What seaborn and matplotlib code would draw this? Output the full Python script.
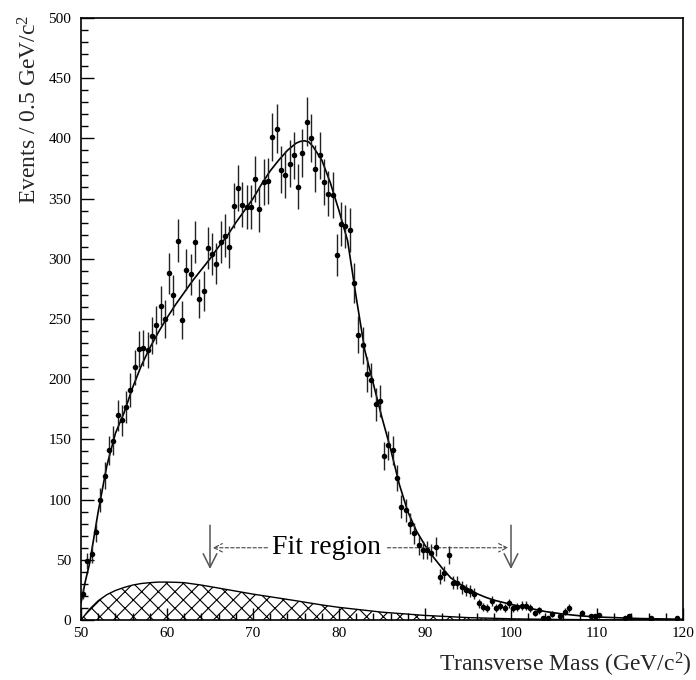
import numpy as np
import pandas as pd
import matplotlib
matplotlib.use("Agg")
import matplotlib.pyplot as plt
import seaborn as sns

# ---------------- data ----------------
bin_width = 0.5
bin_centers = np.arange(50.25, 120.0, bin_width)

counts = [
    22, 49, 55, 73, 100, 120, 141, 149, 170, 166,
    177, 191, 210, 225, 226, 224, 236, 245, 261, 250,
    288, 270, 315, 249, 291, 287, 314, 267, 273, 309,
    304, 296, 314, 319, 310, 344, 359, 345, 343, 343,
    366, 341, 364, 365, 401, 408, 374, 370, 379, 386,
    360, 388, 414, 400, 375, 386, 364, 354, 353, 303,
    329, 327, 324, 280, 237, 228, 204, 199, 179, 182,
    136, 145, 141, 118, 94, 91, 80, 72, 62, 58,
    58, 56, 61, 36, 39, 54, 31, 31, 27, 25,
    24, 22, 14, 11, 10, 16, 10, 12, 10, 14,
    10, 11, 12, 12, 10, 6, 8, 2, 2, 5,
    0, 3, 7, 10, 0, 0, 6, 0, 3, 3,
    4, 0, 0, 0, 0, 0, 2, 3, 0, 0,
    0, 0, 2, 0, 0, 0, 0, 0, 2, 0,
]

fit_x = [50, 50.5, 51, 52, 53, 54, 55, 56, 57, 58, 59, 60, 61, 62, 63, 64,
         65, 66, 67, 68, 69, 70, 71, 72, 73, 74, 75, 75.5, 76, 76.5, 77, 78,
         79, 80, 81, 82, 83, 84, 85, 86, 87, 88, 89, 90, 91, 92, 93, 94, 95,
         96, 97, 98, 100, 102, 104, 106, 108, 110, 115, 120]
fit_y = [14, 32, 47, 90, 128, 155, 172, 193, 211, 226, 239, 251, 262, 272,
         282, 291, 300, 310, 319, 330, 340, 350, 362, 373, 382, 390, 396,
         397.5, 398, 397, 393, 382, 363, 340, 315, 268, 224, 196, 168, 142,
         113, 90, 74, 62, 52, 43, 35, 30, 26, 22, 19, 16.5, 13, 10, 7, 5,
         3.5, 2.5, 1.2, 0.6]

bg_x = [50, 51, 52, 53, 54, 55, 56, 57, 58, 59, 60, 61, 62, 64, 66, 68, 70,
        72, 75, 78, 80, 85, 90, 95, 100, 105, 110, 120]
bg_y = [0, 9, 16, 21, 24.5, 27, 29, 30.3, 31, 31.5, 31.5, 31.3, 31, 29,
        26.5, 24, 21.5, 19.3, 16, 12.5, 10.5, 6.5, 3.8, 2, 1, 0.5, 0.2, 0]

fit_lo, fit_hi = 65, 100

# ---------------- styling ----------------
sns.set_theme(style="ticks")
plt.rcParams["font.family"] = ["Liberation Serif", "DejaVu Serif"]
plt.rcParams["mathtext.fontset"] = "custom"
plt.rcParams["mathtext.rm"] = "Liberation Serif"
plt.rcParams["mathtext.it"] = "Liberation Serif:italic"
plt.rcParams["hatch.linewidth"] = 0.8

fig = plt.figure(figsize=(6.96, 6.80), dpi=100)
ax = fig.add_axes([81 / 696, 1 - 620 / 680, 602 / 696, 602 / 680])

df = pd.DataFrame({"x": bin_centers, "n": counts})
dfp = df[df["n"] > 0].copy()
dfp["err"] = np.sqrt(dfp["n"])

# background (hatched)
ax.fill_between(bg_x, bg_y, 0, facecolor="none", edgecolor="black",
                hatch="xx", linewidth=0)
sns.lineplot(x=bg_x, y=bg_y, ax=ax, color="black", linewidth=1.0)

# fit curve
sns.lineplot(x=fit_x, y=fit_y, ax=ax, color="black", linewidth=1.2)

# data points with error bars
ax.errorbar(dfp["x"], dfp["n"], yerr=dfp["err"], fmt="none",
            ecolor="#222222", elinewidth=1.0, capsize=0)
sns.scatterplot(data=dfp, x="x", y="n", ax=ax, color="black", s=16,
                edgecolor="black", linewidth=0, zorder=5)

# fit region annotation
arrow_kw = dict(arrowstyle="->,head_length=0.7,head_width=0.35",
                color="#555555", lw=1.1, mutation_scale=14)
ax.annotate("", xy=(fit_lo, 40), xytext=(fit_lo, 81), arrowprops=arrow_kw)
ax.annotate("", xy=(fit_hi, 40), xytext=(fit_hi, 81), arrowprops=arrow_kw)
dash_kw = dict(arrowstyle="->,head_length=0.5,head_width=0.25",
               color="#444444", lw=0.8, linestyle=(0, (3, 2)),
               mutation_scale=12)
ax.annotate("", xy=(fit_lo, 60), xytext=(72.0, 60), arrowprops=dash_kw)
ax.annotate("", xy=(fit_hi, 60), xytext=(85.3, 60), arrowprops=dash_kw)
ax.text(78.6, 60, "Fit region", fontsize=20, ha="center", va="center",
        color="black")

# axes
ax.set_xlim(50, 120)
ax.set_ylim(0, 500)
ax.set_xticks(np.arange(50, 121, 10))
ax.set_xticks(np.arange(50, 121, 2), minor=True)
ax.set_yticks(np.arange(0, 501, 50))
ax.set_yticks(np.arange(0, 501, 10), minor=True)
ax.tick_params(which="both", direction="in", top=False, right=False,
               colors="black", labelsize=11)
ax.tick_params(which="major", length=9, width=1.0)
ax.tick_params(which="minor", length=5, width=1.0)
ax.tick_params(axis="y", pad=7)
ax.tick_params(axis="x", pad=5)
for s in ax.spines.values():
    s.set_visible(True)
    s.set_color("black")
    s.set_linewidth(1.2)

ax.set_xlabel(r"Transverse Mass (GeV/c$^{2}$)", fontsize=17, loc="right")
ax.set_ylabel(r"Events / 0.5 GeV/c$^{2}$", fontsize=17, loc="top")
ax.xaxis.set_label_coords(1.015, -0.052)
ax.yaxis.set_label_coords(-0.066, 1.005)

fig.savefig("out.png", dpi=100)
